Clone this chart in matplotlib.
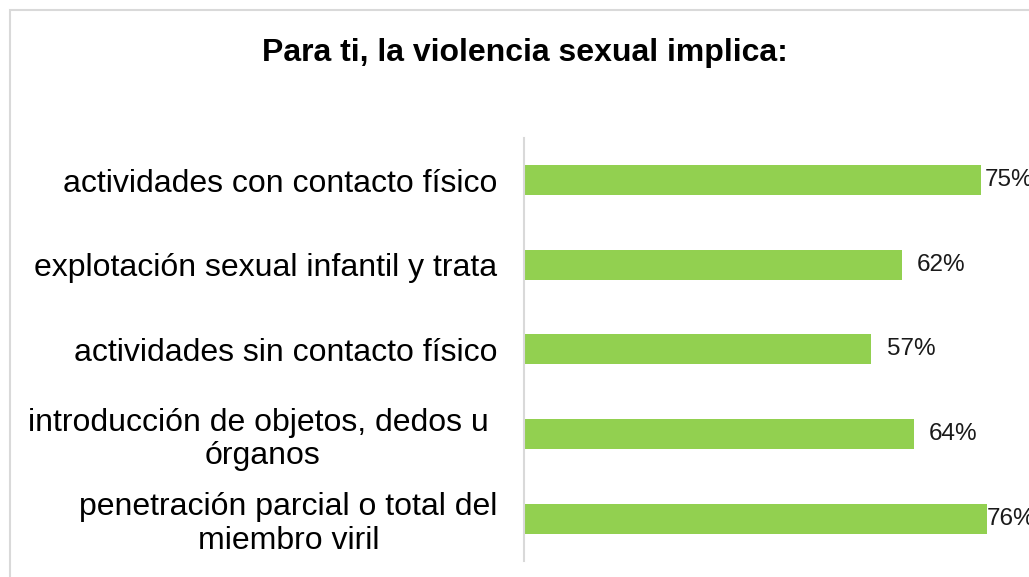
import matplotlib.pyplot as plt
from matplotlib.patches import Rectangle

categories = ['actividades con contacto físico',
              'explotación sexual infantil y trata',
              'actividades sin contacto físico',
              'introducción de objetos, dedos u \nórganos',
              'penetración parcial o total del\nmiembro viril']
values = [75, 62, 57, 64, 76]
value_labels = ['75%', '62%', '57%', '64%', '76%']
# label offsets in points (the two longest bars had their labels nudged in)
label_pad = [3, 11, 11, 11, 0]

plt.rcParams['font.family'] = ['Liberation Sans', 'DejaVu Sans']

fig = plt.figure(figsize=(10.29, 5.77), dpi=100)

# light chart border, cut off at right and bottom like the source
fig.patches.append(Rectangle((10 / 1029, -0.1), 1.2, 1 - 10 / 577 + 0.1,
                             transform=fig.transFigure, fill=False,
                             edgecolor='#D9D9D9', linewidth=1.5))

ax = fig.add_axes([524 / 1029, 1 - 561 / 577, 1 - 524 / 1029, (561 - 137.7) / 577])
y = range(len(categories))
ax.barh(y, values, height=0.354, color='#92D050')
ax.set_xlim(0, 82.9)
ax.set_ylim(len(categories) - 0.5, -0.5)

for i, v in enumerate(values):
    ax.annotate(value_labels[i], (v, i), xytext=(label_pad[i], 0),
                textcoords='offset points', va='center', ha='left',
                fontsize=17.5, color='#1a1a1a', annotation_clip=False)

ax.set_yticks(list(y))
ax.set_yticklabels(categories, fontsize=23, color='black', ma='center',
                   linespacing=1.15)
ax.tick_params(axis='y', length=0, pad=19)
ax.set_xticks([])
for s in ['top', 'right', 'bottom']:
    ax.spines[s].set_visible(False)
ax.spines['left'].set_color('#D9D9D9')
ax.spines['left'].set_linewidth(1.5)

fig.text(525 / 1029, 1 - 53 / 577, 'Para ti, la violencia sexual implica:',
         ha='center', va='center', fontsize=23, fontweight='bold', color='black')

fig.savefig('out.png', dpi=100)
